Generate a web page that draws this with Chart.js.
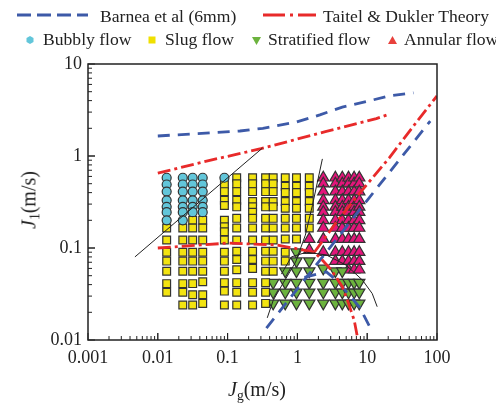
<!DOCTYPE html>
<html>
<head>
<meta charset="utf-8">
<script src="https://cdn.jsdelivr.net/npm/chart.js@4/dist/chart.umd.min.js"></script>
<style>
  body { margin: 0; background: #fff; }
  #wrap { position: relative; width: 496px; height: 405px; font-family: "Liberation Serif", "DejaVu Serif", serif; color: #222; }
  #wrap canvas { position: absolute; left: 0; top: 0; }
  .lbl { position: absolute; font-size: 17.6px; line-height: 20px; white-space: nowrap; }
  .ico { position: absolute; }
  .title { position: absolute; font-size: 20px; line-height: 22px; white-space: nowrap; }
  .sub { font-size: 0.68em; vertical-align: -0.3em; }
</style>
</head>
<body>
<div id="wrap">
  <canvas id="flow-map" width="496" height="405"></canvas>

  <!-- legend, row 1: transition lines -->
  <svg class="ico" style="left:16px;top:10px" width="74" height="10"><line x1="1" y1="5" x2="72" y2="5" stroke="#3d5aa8" stroke-width="3" stroke-dasharray="14,6"/></svg>
  <span class="lbl" style="left:100px;top:6px">Barnea et al (6mm)</span>
  <svg class="ico" style="left:262px;top:10px" width="56" height="10"><line x1="1" y1="5" x2="54" y2="5" stroke="#e82a2a" stroke-width="3" stroke-dasharray="22,5,3,5"/></svg>
  <span class="lbl" style="left:323px;top:6px">Taitel &amp; Dukler Theory</span>

  <!-- legend, row 2: observed patterns -->
  <svg class="ico" style="left:25px;top:35px" width="10" height="10"><polygon points="5,1 8.5,3 8.5,7 5,9 1.5,7 1.5,3" fill="#62c6da"/></svg>
  <span class="lbl" style="left:43px;top:29px">Bubbly flow</span>
  <svg class="ico" style="left:147px;top:35px" width="10" height="10"><rect x="1.5" y="1.5" width="7" height="7" fill="#f0e000"/></svg>
  <span class="lbl" style="left:165px;top:29px">Slug flow</span>
  <svg class="ico" style="left:251px;top:36px" width="11" height="10"><polygon points="1,1 10,1 5.5,9" fill="#6cb33e"/></svg>
  <span class="lbl" style="left:268px;top:29px">Stratified flow</span>
  <svg class="ico" style="left:387px;top:35px" width="11" height="10"><polygon points="5.5,1 10,9 1,9" fill="#e8413c"/></svg>
  <span class="lbl" style="left:404px;top:29px">Annular flow</span>

  <!-- axis titles -->
  <div class="title" style="left:228px;top:378px"><i>J</i><span class="sub">g</span>(m/s)</div>
  <div class="title" style="left:32px;top:200px;transform:translate(-50%,-50%) rotate(-90deg)"><i>J</i><span class="sub">1</span>(m/s)</div>
</div>

<script>
// axis ticks
const xTickValues = [0.001, 0.01, 0.1, 1, 10, 100];
const xTickLabels = ['0.001', '0.01', '0.1', '1', '10', '100'];
const yTickValues = [0.01, 0.1, 1, 10];
const yTickLabels = ['0.01', '0.1', '1', '10'];

// Barnea et al (6mm) transition lines
const barneaTopJg = [0.01, 0.15, 0.32, 0.97, 2.1, 4.4, 9.7, 20.6, 46];
const barneaTopJl = [1.65, 1.87, 2.0, 2.34, 2.8, 3.4, 3.9, 4.5, 4.85];
const barneaDiagJg = [0.36, 1.0, 10, 80];
const barneaDiagJl = [0.0135, 0.036, 0.33, 2.4];
const barneaStratJg = [1.26, 2.6, 3.6, 7.7, 11.4];
const barneaStratJl = [0.048, 0.055, 0.045, 0.023, 0.013];

// Taitel & Dukler theory
const taitelTopJg = [0.01, 0.05, 0.3, 0.85, 2.6, 13.5, 19.3];
const taitelTopJl = [0.65, 0.88, 1.2, 1.48, 1.85, 2.55, 2.8];
const taitelLowJg = [0.01, 0.1, 0.5, 1.0, 1.75, 2.27, 3.05, 4.4, 5.2, 6.5, 7.2, 7.6];
const taitelLowJl = [0.1, 0.113, 0.108, 0.098, 0.09, 0.074, 0.058, 0.038, 0.027, 0.0165, 0.011, 0.009];
const taitelRiseJg = [1.75, 3.6, 7.7, 20.6, 50, 100];
const taitelRiseJl = [0.09, 0.19, 0.39, 0.95, 2.3, 4.5];

// thin black boundaries drawn from the observations
const obsBubblyJg = [0.0047, 0.316];
const obsBubblyJl = [0.08, 1.22];
const obsSteepJg = [2.28, 1.64, 1.3, 0.94, 0.63, 0.45, 0.37];
const obsSteepJl = [0.93, 0.29, 0.138, 0.07, 0.042, 0.027, 0.0174];
const obsArcJg = [0.59, 0.82, 1.35, 2.6, 5.0, 8.5, 11.8, 13.9];
const obsArcJl = [0.052, 0.08, 0.09, 0.084, 0.065, 0.045, 0.032, 0.023];

// observed points, one list of J1 per Jg column
const bubblyJg = [0.0134, 0.0228, 0.0316, 0.044, 0.09];
const bubblyJl = [
  [0.58, 0.49, 0.41, 0.33, 0.28, 0.245, 0.2],
  [0.58, 0.49, 0.41, 0.33, 0.28, 0.245, 0.2],
  [0.58, 0.49, 0.41, 0.33, 0.28, 0.245],
  [0.58, 0.49, 0.41, 0.33, 0.28, 0.245],
  [0.58]
];

const slugJg = [0.0134, 0.0228, 0.0316, 0.044, 0.09, 0.135, 0.228, 0.35, 0.45, 0.67, 0.97, 1.48];
const slugJl = [
  [0.165, 0.122, 0.09, 0.072, 0.056, 0.041, 0.033],
  [0.165, 0.122, 0.09, 0.072, 0.056, 0.041, 0.033, 0.024],
  [0.2, 0.165, 0.122, 0.09, 0.072, 0.056, 0.041, 0.031, 0.024],
  [0.2, 0.165, 0.122, 0.09, 0.072, 0.056, 0.043, 0.031, 0.025],
  [0.49, 0.41, 0.33, 0.29, 0.2, 0.17, 0.15, 0.122, 0.09, 0.072, 0.056, 0.042, 0.034, 0.024],
  [0.58, 0.5, 0.41, 0.33, 0.28, 0.21, 0.165, 0.122, 0.092, 0.075, 0.058, 0.042, 0.033, 0.024],
  [0.58, 0.5, 0.41, 0.32, 0.28, 0.245, 0.21, 0.165, 0.122, 0.092, 0.075, 0.06, 0.042, 0.033, 0.024],
  [0.58, 0.5, 0.41, 0.32, 0.28, 0.21, 0.165, 0.122, 0.092, 0.072, 0.056, 0.042, 0.033, 0.025],
  [0.58, 0.5, 0.41, 0.32, 0.28, 0.21, 0.165, 0.122, 0.092, 0.072, 0.056],
  [0.58, 0.47, 0.40, 0.32, 0.27, 0.21, 0.165, 0.125, 0.09, 0.072],
  [0.58, 0.47, 0.40, 0.32, 0.27, 0.21, 0.165, 0.125],
  [0.58, 0.47, 0.40, 0.32, 0.27, 0.21, 0.165]
];

const stratJg = [0.45, 0.67, 0.97, 1.48, 2.35, 3.5, 4.4, 5.4, 6.5, 7.7];
const stratJl = [
  [0.042, 0.033, 0.025],
  [0.056, 0.042, 0.033, 0.025],
  [0.09, 0.072, 0.056, 0.042, 0.033, 0.025],
  [0.072, 0.056, 0.042, 0.033, 0.025],
  [0.06, 0.042, 0.033, 0.025],
  [0.056, 0.042, 0.033, 0.025],
  [0.056, 0.042, 0.033, 0.025],
  [0.042, 0.033, 0.025],
  [0.042, 0.033, 0.025],
  [0.042, 0.033, 0.025]
];

const annularJg = [1.48, 2.35, 3.5, 4.4, 5.4, 6.5, 7.7];
const annularJl = [
  [0.125, 0.095],
  [0.58, 0.5, 0.41, 0.33, 0.28, 0.245, 0.2, 0.165, 0.125, 0.09],
  [0.58, 0.5, 0.41, 0.33, 0.28, 0.245, 0.2, 0.165, 0.125, 0.09, 0.072],
  [0.58, 0.5, 0.41, 0.33, 0.28, 0.245, 0.2, 0.165, 0.125, 0.09, 0.072],
  [0.58, 0.5, 0.41, 0.33, 0.28, 0.245, 0.2, 0.165, 0.125, 0.09, 0.072, 0.058],
  [0.58, 0.5, 0.41, 0.33, 0.28, 0.245, 0.2, 0.165, 0.125, 0.09, 0.072, 0.058],
  [0.58, 0.5, 0.41, 0.33, 0.28, 0.245, 0.2, 0.165, 0.125, 0.09, 0.072, 0.058]
];

// helpers to turn the arrays into chart points
function toLine(xs, ys) {
  return xs.map((x, i) => ({ x: x, y: ys[i] }));
}
function toPoints(xs, cols) {
  return xs.flatMap((x, i) => cols[i].map(y => ({ x: x, y: y })));
}

const BLUE = '#3d5aa8';
const RED = '#e82a2a';

function lineSet(xs, ys, color, dash, width) {
  return {
    data: toLine(xs, ys),
    showLine: true,
    borderColor: color,
    borderWidth: width,
    borderDash: dash,
    pointRadius: 0,
    fill: false,
    order: 0
  };
}
function markerSet(xs, cols, style, fill, radius, rotation) {
  return {
    data: toPoints(xs, cols),
    showLine: false,
    pointStyle: style,
    pointRadius: radius,
    pointRotation: rotation || 0,
    pointBackgroundColor: fill,
    pointBorderColor: '#333',
    pointBorderWidth: 1.2,
    order: 1
  };
}

// frame and inward ticks (major + minor), like the original plot
const framePlugin = {
  id: 'frame',
  afterDraw(chart) {
    const { ctx, chartArea: a, scales } = chart;
    ctx.save();
    ctx.strokeStyle = '#222';
    ctx.lineWidth = 1.5;
    ctx.strokeRect(a.left, a.top, a.right - a.left, a.bottom - a.top);
    ctx.lineWidth = 1;
    ctx.beginPath();
    for (let d = -3; d <= 1; d++) {
      for (let m = 1; m <= 10; m++) {
        const px = scales.x.getPixelForValue(m * Math.pow(10, d));
        const len = (m === 1 || m === 10) ? 7 : 4;
        ctx.moveTo(px, a.bottom);
        ctx.lineTo(px, a.bottom - len);
      }
    }
    for (let d = -2; d <= 0; d++) {
      for (let m = 1; m <= 10; m++) {
        const py = scales.y.getPixelForValue(m * Math.pow(10, d));
        const len = (m === 1 || m === 10) ? 7 : 4;
        ctx.moveTo(a.left, py);
        ctx.lineTo(a.left + len, py);
      }
    }
    ctx.stroke();
    ctx.restore();
  }
};

const tickFont = { family: '"Liberation Serif", serif', size: 18 };

const ctx = document.getElementById('flow-map').getContext('2d');
new Chart(ctx, {
  type: 'scatter',
  data: {
    datasets: [
      lineSet(obsBubblyJg, obsBubblyJl, '#222', [], 1),
      lineSet(obsSteepJg, obsSteepJl, '#222', [], 1),
      lineSet(obsArcJg, obsArcJl, '#222', [], 1),
      lineSet(taitelTopJg, taitelTopJl, RED, [13, 4, 3, 4], 2.8),
      lineSet(taitelLowJg, taitelLowJl, RED, [13, 4, 3, 4], 2.8),
      lineSet(taitelRiseJg, taitelRiseJl, RED, [13, 4, 3, 4], 2.8),
      lineSet(barneaTopJg, barneaTopJl, BLUE, [12, 8], 2.8),
      lineSet(barneaDiagJg, barneaDiagJl, BLUE, [12, 8], 2.8),
      lineSet(barneaStratJg, barneaStratJl, BLUE, [12, 8], 2.8),
      markerSet(bubblyJg, bubblyJl, 'circle', '#62c6da', 4.5),
      markerSet(slugJg, slugJl, 'rect', '#f3e410', 5.5),
      markerSet(stratJg, stratJl, 'triangle', '#6cb33e', 6.5, 180),
      markerSet(annularJg, annularJl, 'triangle', '#e3157b', 6.5)
    ]
  },
  options: {
    responsive: false,
    animation: false,
    layout: { padding: { left: 0, top: 64, right: 59, bottom: 0 } },
    plugins: { legend: { display: false }, tooltip: { enabled: false } },
    scales: {
      x: {
        type: 'logarithmic',
        min: 0.001,
        max: 100,
        grid: { display: false, drawTicks: false },
        border: { display: false },
        afterBuildTicks: s => { s.ticks = xTickValues.map(v => ({ value: v })); },
        afterFit: s => { s.height = 65; },
        ticks: {
          autoSkip: false,
          maxRotation: 0,
          padding: 7,
          color: '#222',
          font: tickFont,
          callback: v => xTickLabels[xTickValues.indexOf(v)]
        }
      },
      y: {
        type: 'logarithmic',
        min: 0.01,
        max: 10,
        grid: { display: false, drawTicks: false },
        border: { display: false },
        afterBuildTicks: s => { s.ticks = yTickValues.map(v => ({ value: v })); },
        afterFit: s => { s.width = 88; },
        ticks: {
          autoSkip: false,
          padding: 6,
          color: '#222',
          font: tickFont,
          callback: v => yTickLabels[yTickValues.indexOf(v)]
        }
      }
    }
  },
  plugins: [framePlugin]
});
</script>
</body>
</html>
